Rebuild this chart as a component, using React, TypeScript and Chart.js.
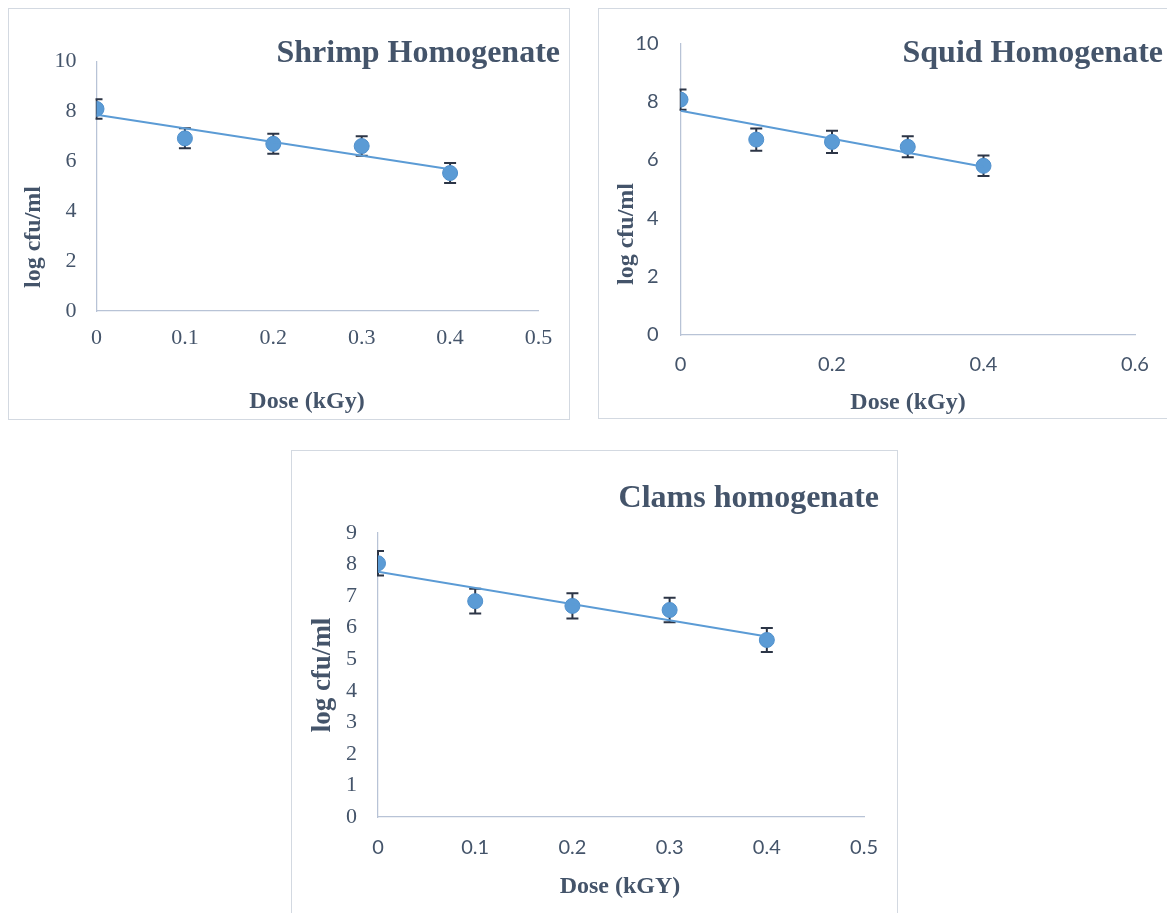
import React, { useEffect, useRef } from 'react';
import { Chart, registerables } from 'chart.js';

Chart.register(...registerables);

// ---------- data ----------
const doses = [0, 0.1, 0.2, 0.3, 0.4];

const shrimpLog = [8.1, 6.92, 6.7, 6.61, 5.53];
const shrimpErr = [0.39, 0.4, 0.4, 0.39, 0.4];

const squidLog = [8.07, 6.7, 6.62, 6.45, 5.8];
const squidErr = [0.35, 0.38, 0.38, 0.36, 0.35];

const clamsLog = [8.04, 6.84, 6.69, 6.56, 5.61];
const clamsErr = [0.39, 0.39, 0.4, 0.39, 0.38];

const shrimpXTicks = ['0', '0.1', '0.2', '0.3', '0.4', '0.5'];
const shrimpYTicks = ['0', '2', '4', '6', '8', '10'];
const squidXTicks = ['0', '0.2', '0.4', '0.6'];
const squidYTicks = ['0', '2', '4', '6', '8', '10'];
const clamsXTicks = ['0', '0.1', '0.2', '0.3', '0.4', '0.5'];
const clamsYTicks = ['0', '1', '2', '3', '4', '5', '6', '7', '8', '9'];

// ---------- styling ----------
const SERIF = '"Liberation Serif", "Times New Roman", serif';
const SANS = 'Lato, "Open Sans", sans-serif';
const TEXT = '#44546a';
const AXIS = '#b8c3d6';
const MARKER = '#5b9bd5';
const ERRBAR = '#2c3546';

type Cfg = {
  box: { left: number; top: number; width: number; height: number };
  area: { left: number; top: number; right: number; bottom: number };
  xMax: number; xStep: number; yMax: number; yStep: number;
  xTicks: string[]; yTicks: string[];
  xTickFamily: string; yTickFamily: string;
  xTickSize: number; yTickSize: number;
  xTickPad: number; yTickPad: number;
  values: number[]; errors: number[];
  title: { text: string; right: number; baseline: number };
  xTitle: { text: string; center: number; baseline: number };
  yTitle: { text: string; baseline: number; center: number; size: number };
};

const charts: Cfg[] = [
  {
    box: { left: 8, top: 8, width: 562, height: 412 },
    area: { left: 96.5, top: 61.5, right: 538.5, bottom: 311 },
    xMax: 0.5, xStep: 0.1, yMax: 10, yStep: 2,
    xTicks: shrimpXTicks, yTicks: shrimpYTicks,
    xTickFamily: SERIF, yTickFamily: SERIF, xTickSize: 22, yTickSize: 22,
    xTickPad: 14, yTickPad: 20,
    values: shrimpLog, errors: shrimpErr,
    title: { text: 'Shrimp Homogenate', right: 560, baseline: 62 },
    xTitle: { text: 'Dose (kGy)', center: 307, baseline: 408 },
    yTitle: { text: 'log cfu/ml', baseline: 40, center: 237, size: 24 },
  },
  {
    box: { left: 598, top: 8, width: 575, height: 411 },
    area: { left: 680.5, top: 43.3, right: 1135, bottom: 335 },
    xMax: 0.6, xStep: 0.2, yMax: 10, yStep: 2,
    xTicks: squidXTicks, yTicks: squidYTicks,
    xTickFamily: SANS, yTickFamily: SANS, xTickSize: 20, yTickSize: 20,
    xTickPad: 18, yTickPad: 22,
    values: squidLog, errors: squidErr,
    title: { text: 'Squid Homogenate', right: 1163, baseline: 62 },
    xTitle: { text: 'Dose (kGy)', center: 908, baseline: 409 },
    yTitle: { text: 'log cfu/ml', baseline: 633, center: 234, size: 24 },
  },
  {
    box: { left: 291, top: 450, width: 607, height: 470 },
    area: { left: 378, top: 533, right: 866, bottom: 817 },
    xMax: 0.5, xStep: 0.1, yMax: 9, yStep: 1,
    xTicks: clamsXTicks, yTicks: clamsYTicks,
    xTickFamily: SANS, yTickFamily: SERIF, xTickSize: 20, yTickSize: 22,
    xTickPad: 19, yTickPad: 21,
    values: clamsLog, errors: clamsErr,
    title: { text: 'Clams homogenate', right: 879, baseline: 507 },
    xTitle: { text: 'Dose (kGY)', center: 620, baseline: 893 },
    yTitle: { text: 'log cfu/ml', baseline: 330, center: 675, size: 27 },
  },
];

function linearFit(xs: number[], ys: number[]) {
  const n = xs.length;
  const mx = xs.reduce((a, b) => a + b, 0) / n;
  const my = ys.reduce((a, b) => a + b, 0) / n;
  let sxy = 0, sxx = 0;
  for (let i = 0; i < n; i++) {
    sxy += (xs[i] - mx) * (ys[i] - my);
    sxx += (xs[i] - mx) * (xs[i] - mx);
  }
  const slope = sxy / sxx;
  return { slope, intercept: my - slope * mx };
}

function ChartBox({ cfg }: { cfg: Cfg }) {
  const ref = useRef<HTMLCanvasElement>(null);
  const ox = cfg.box.left + 1;
  const oy = cfg.box.top + 1;
  const cw = cfg.box.width - 2;
  const ch = cfg.box.height - 2;

  useEffect(() => {
    const X_AXIS_H = 40;
    const yAxisW = cfg.area.left - ox;
    const padTop = cfg.area.top - oy;
    const padRight = cw - (cfg.area.right - ox);
    const padBottom = ch - (cfg.area.bottom - oy) - X_AXIS_H;

    const fit = linearFit(doses, cfg.values);
    const xFirst = doses[0];
    const xLast = doses[doses.length - 1];

    const annotate = {
      id: 'annotate',
      beforeDatasetsDraw(chart: any) {
        const ctx = chart.ctx as CanvasRenderingContext2D;
        const xs = chart.scales.x;
        const ys = chart.scales.y;
        const a = chart.chartArea;
        ctx.save();
        ctx.beginPath();
        ctx.rect(a.left - 1, a.top - 40, a.right - a.left + 60, a.bottom - a.top + 80);
        ctx.clip();
        ctx.strokeStyle = ERRBAR;
        ctx.lineWidth = 2;
        doses.forEach((d, i) => {
          const px = xs.getPixelForValue(d);
          const t = ys.getPixelForValue(cfg.values[i] + cfg.errors[i]);
          const b = ys.getPixelForValue(cfg.values[i] - cfg.errors[i]);
          ctx.beginPath();
          ctx.moveTo(px, t); ctx.lineTo(px, b);
          ctx.moveTo(px - 6, t); ctx.lineTo(px + 6, t);
          ctx.moveTo(px - 6, b); ctx.lineTo(px + 6, b);
          ctx.stroke();
        });
        ctx.restore();
      },
      afterDraw(chart: any) {
        const ctx = chart.ctx as CanvasRenderingContext2D;
        ctx.save();
        ctx.fillStyle = TEXT;
        ctx.textBaseline = 'alphabetic';
        // chart title
        ctx.font = `bold 32px ${SERIF}`;
        ctx.textAlign = 'right';
        ctx.fillText(cfg.title.text, cfg.title.right - ox, cfg.title.baseline - oy);
        // x-axis title
        ctx.font = `bold 24px ${SERIF}`;
        ctx.textAlign = 'center';
        ctx.fillText(cfg.xTitle.text, cfg.xTitle.center - ox, cfg.xTitle.baseline - oy);
        // y-axis title
        ctx.font = `bold ${cfg.yTitle.size}px ${SERIF}`;
        ctx.translate(cfg.yTitle.baseline - ox, cfg.yTitle.center - oy);
        ctx.rotate(-Math.PI / 2);
        ctx.textAlign = 'center';
        ctx.fillText(cfg.yTitle.text, 0, 0);
        ctx.restore();
      },
    };

    const chart = new Chart(ref.current as HTMLCanvasElement, {
      type: 'scatter',
      data: {
        datasets: [
          {
            label: 'Trend',
            data: [
              { x: xFirst, y: fit.intercept + fit.slope * xFirst },
              { x: xLast, y: fit.intercept + fit.slope * xLast },
            ],
            showLine: true,
            borderColor: MARKER,
            borderWidth: 2,
            pointRadius: 0,
            fill: false,
          },
          {
            label: 'log cfu/ml',
            data: doses.map((d, i) => ({ x: d, y: cfg.values[i] })),
            pointRadius: 7.5,
            pointBackgroundColor: MARKER,
            pointBorderColor: '#5090cc',
            pointBorderWidth: 1,
          },
        ],
      },
      options: {
        animation: false,
        responsive: false,
        maintainAspectRatio: false,
        events: [],
        layout: { padding: { left: 0, top: padTop, right: padRight, bottom: padBottom } },
        plugins: {
          legend: { display: false },
          tooltip: { enabled: false },
          title: { display: false },
        },
        scales: {
          x: {
            type: 'linear',
            min: 0,
            max: cfg.xMax,
            grid: { display: false, drawTicks: false },
            border: { display: true, color: AXIS, width: 1.25 },
            ticks: {
              stepSize: cfg.xStep,
              padding: cfg.xTickPad,
              color: TEXT,
              font: { family: cfg.xTickFamily, size: cfg.xTickSize, lineHeight: 1.2 },
              maxRotation: 0,
              autoSkip: false,
              callback: (_v: any, i: number) => cfg.xTicks[i] ?? '',
            },
            afterFit: (s: any) => { s.height = X_AXIS_H; },
          },
          y: {
            type: 'linear',
            min: 0,
            max: cfg.yMax,
            grid: { display: false, drawTicks: false },
            border: { display: true, color: AXIS, width: 1.25 },
            ticks: {
              stepSize: cfg.yStep,
              padding: cfg.yTickPad,
              color: TEXT,
              font: { family: cfg.yTickFamily, size: cfg.yTickSize, lineHeight: 1.2 },
              autoSkip: false,
              callback: (_v: any, i: number) => cfg.yTicks[i] ?? '',
            },
            afterFit: (s: any) => { s.width = yAxisW; },
          },
        },
      },
      plugins: [annotate],
    } as any);
    return () => chart.destroy();
  }, []);

  return (
    <div
      style={{
        position: 'absolute',
        left: cfg.box.left,
        top: cfg.box.top,
        width: cfg.box.width,
        height: cfg.box.height,
        border: '1px solid #d3d9e1',
        boxSizing: 'border-box',
        background: '#ffffff',
      }}
    >
      <canvas
        ref={ref}
        width={cw}
        height={ch}
        style={{ position: 'absolute', left: 0, top: 0, width: cw, height: ch }}
      />
    </div>
  );
}

export default function App() {
  return (
    <div
      style={{
        position: 'absolute',
        left: 0,
        top: 0,
        width: 1167,
        height: 913,
        overflow: 'hidden',
        background: '#ffffff',
      }}
    >
      {charts.map((c, i) => (
        <ChartBox key={i} cfg={c} />
      ))}
    </div>
  );
}
